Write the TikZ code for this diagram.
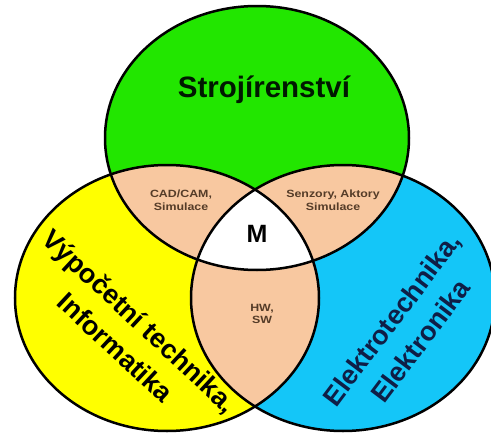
\documentclass[tikz,border=0pt]{standalone}
\usepackage{fontspec}
\setmainfont{Liberation Sans}
\newfontfamily\widefont{Liberation Sans}[FakeStretch=1.18]
\definecolor{strojgreen}{RGB}{34,230,0}
\definecolor{infoyellow}{RGB}{255,255,0}
\definecolor{elekblue}{RGB}{20,198,248}
\definecolor{overlap}{RGB}{248,200,160}
\definecolor{smalltext}{RGB}{85,60,40}
\definecolor{elektext}{RGB}{15,30,70}
\begin{document}
\begin{tikzpicture}[x=1pt, y=-1pt, line width=2.5pt,
  venn/.style = {x radius=152pt, y radius=133pt},
  small/.style = {font=\widefont\bfseries\fontsize{10.5}{12.7}\selectfont, text=smalltext, align=center},
  big/.style = {font=\bfseries\fontsize{27}{36}\selectfont, align=center}]
  \useasboundingbox (0,0) rectangle (491,434);
  \coordinate (stroj) at (257,138);
  \coordinate (info) at (167,298);
  \coordinate (elek) at (343,298);
  \fill[strojgreen] (stroj) ellipse [venn, y radius=132pt];
  \fill[infoyellow] (info) ellipse [venn];
  \fill[elekblue] (elek) ellipse [venn];
  % pairwise overlaps
  \begin{scope}
    \clip (stroj) ellipse [venn, y radius=132pt];
    \fill[overlap] (info) ellipse [venn];
    \fill[overlap] (elek) ellipse [venn];
  \end{scope}
  \begin{scope}
    \clip (info) ellipse [venn];
    \fill[overlap] (elek) ellipse [venn];
    \clip (elek) ellipse [venn];
    \fill[white] (stroj) ellipse [venn, y radius=132pt];
  \end{scope}
  \draw (stroj) ellipse [venn, y radius=132pt];
  \draw (info) ellipse [venn];
  \draw (elek) ellipse [venn];
  \node[big, anchor=base, font=\bfseries\fontsize{29.5}{35}\selectfont, text=black!90!green] (strojlabel) at (264,97) {Strojírenství};
  \node[big, rotate=-43] (infolabel) at (128,334) {Výpočetní technika,\\Informatika};
  \node[big, rotate=53, text=elektext] (eleklabel) at (406,330) {Elektrotechnika,\\Elektronika};
  \node[small] (cad) at (181,200) {CAD/CAM,\\Simulace};
  \node[small] (senz) at (333,200) {Senzory, Aktory\\Simulace};
  \node[small] (hwsw) at (262,314) {HW,\\SW};
  \node[font=\bfseries\fontsize{25}{30}\selectfont] (m) at (257,234) {M};
\end{tikzpicture}
\end{document}
